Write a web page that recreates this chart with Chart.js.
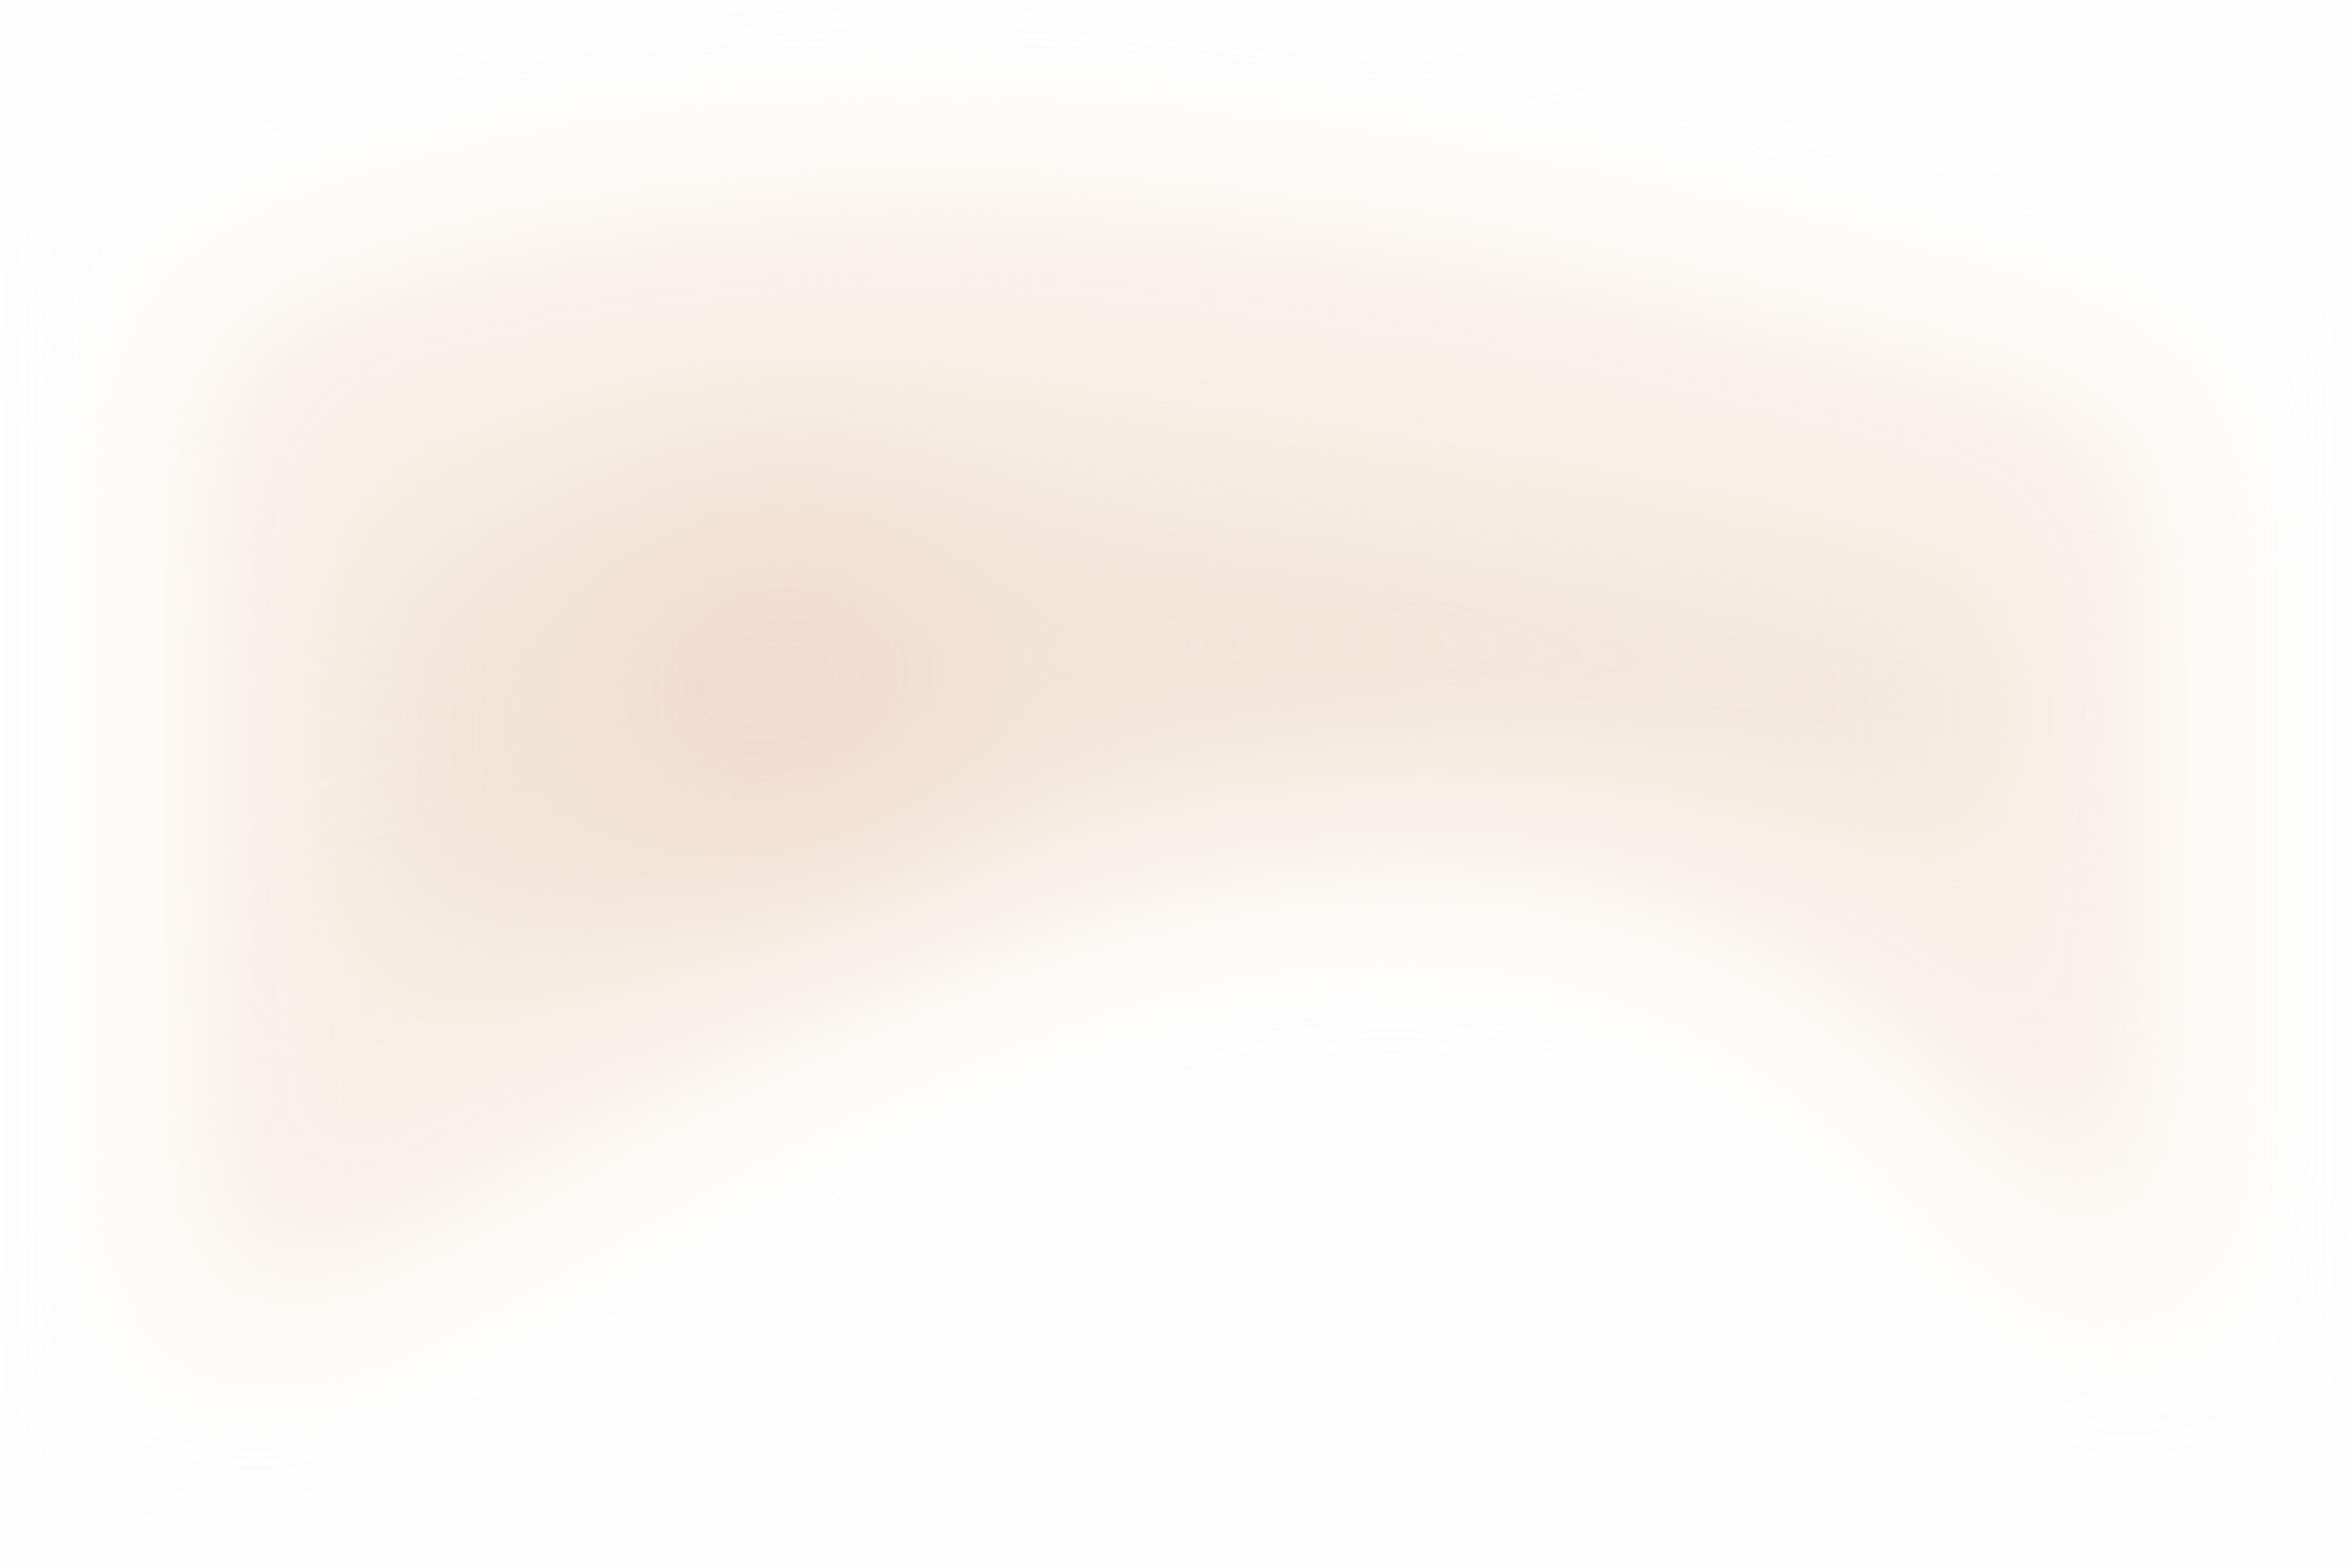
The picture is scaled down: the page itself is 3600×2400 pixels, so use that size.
<!DOCTYPE html>
<html>
<head>
<meta charset="utf-8">
<script src="https://cdn.jsdelivr.net/npm/chart.js@4/dist/chart.umd.min.js"></script>
<style>
  html, body { margin: 0; padding: 0; background: #fefefe; overflow: hidden; }
  #wrap { width: 3600px; height: 2400px; }
  /* the whole chart is a soft haze */
  #chart { filter: blur(140px); }
</style>
</head>
<body>
<div id="wrap"><canvas id="chart"></canvas></div>
<script>
// outer haze band
const outerX = [-3, 10, 25, 40, 55, 70, 85, 103];
const outerTop = [86, 94, 99, 100, 98, 94, 88, 80];
const outerBottom = [0, 10, 24, 36, 43, 42, 30, -2];

// denser core band
const coreX = [8, 20, 30, 45, 60, 75, 92];
const coreTop = [68, 76, 79, 76, 72, 68, 62];
const coreBottom = [36, 36, 40, 47, 51, 52, 48];

// peak
const peakX = [30];
const peakY = [58];
const peakR = [300];

const pts = (xs, ys) => xs.map((x, i) => ({ x: x, y: ys[i] }));

new Chart(document.getElementById('chart'), {
  type: 'line',
  data: {
    datasets: [
      { data: pts(outerX, outerBottom), borderWidth: 0, pointRadius: 0, tension: 0.4, fill: false, clip: false },
      { data: pts(outerX, outerTop), borderWidth: 0, pointRadius: 0, tension: 0.4, clip: false,
        fill: { target: 0 }, backgroundColor: 'rgba(243, 228, 214, 0.6)' },
      { data: pts(coreX, coreBottom), borderWidth: 0, pointRadius: 0, tension: 0.4, fill: false },
      { data: pts(coreX, coreTop), borderWidth: 0, pointRadius: 0, tension: 0.4,
        fill: { target: 2 }, backgroundColor: 'rgba(228, 204, 186, 0.5)' },
      { type: 'bubble', data: peakX.map((x, i) => ({ x: x, y: peakY[i], r: peakR[i] })),
        backgroundColor: 'rgba(220, 192, 170, 0.55)', borderWidth: 0 }
    ]
  },
  options: {
    responsive: true,
    maintainAspectRatio: false,
    animation: false,
    layout: { padding: 0 },
    plugins: { legend: { display: false }, tooltip: { enabled: false } },
    scales: {
      x: { type: 'linear', min: 0, max: 100, display: false },
      y: { min: 0, max: 100, display: false }
    }
  }
});
</script>
</body>
</html>
